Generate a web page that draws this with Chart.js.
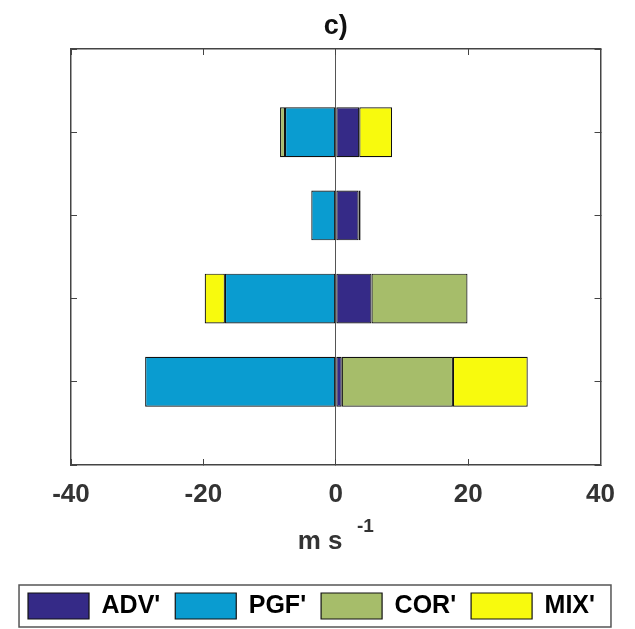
<!DOCTYPE html>
<html>
<head>
<meta charset="utf-8">
<script src="https://cdn.jsdelivr.net/npm/chart.js@4/dist/chart.umd.min.js"></script>
<style>
body { margin: 0; background: #fff; }
</style>
</head>
<body>
<canvas id="chart" width="635" height="629"></canvas>
<script>
// bar rows, bottom to top
var positions = [1, 2, 3, 4];
var adv = [0.9, 5.4, 3.45, 3.55];
var pgf = [-28.8, -16.75, -3.7, -7.67];
var cor = [16.8, 14.5, 0.3, -0.75];
var mix = [11.3, -3.05, 0, 4.96];
var seriesNames = ["ADV'", "PGF'", "COR'", "MIX'"];
var seriesColors = ["#352a87", "#0a9cd0", "#a6bd6a", "#f8fa0d"];
var xTicks = [-40, -20, 0, 20, 40];
var titleText = "c)";
var xLabel = "m s";
var xLabelExp = "-1";

function points(values) {
    var out = [];
    for (var i = 0; i < positions.length; i++) {
        out.push({x: values[i], y: positions[i]});
    }
    return out;
}

var allValues = [adv, pgf, cor, mix];
var datasets = [];
for (var i = 0; i < allValues.length; i++) {
    datasets.push({
        label: seriesNames[i],
        data: points(allValues[i]),
        backgroundColor: seriesColors[i],
        borderColor: "#111",
        borderWidth: 1.2,
        borderSkipped: false,
        barPercentage: 0.75,
        categoryPercentage: 0.8
    });
}

// x label with raised exponent, and the box round the legend
var extras = {
    id: "extras",
    afterDraw: function(chart) {
        var ctx = chart.ctx;
        var area = chart.chartArea;
        ctx.save();
        ctx.fillStyle = "#333";
        ctx.textBaseline = "middle";
        ctx.font = "bold 26px 'Liberation Sans', Arial, sans-serif";
        var w1 = ctx.measureText(xLabel + "  ").width;
        ctx.font = "bold 19px 'Liberation Sans', Arial, sans-serif";
        var w2 = ctx.measureText(xLabelExp).width;
        var x0 = (area.left + area.right) / 2 - (w1 + w2) / 2;
        var y0 = area.bottom + 77;
        ctx.font = "bold 26px 'Liberation Sans', Arial, sans-serif";
        ctx.textAlign = "left";
        ctx.fillText(xLabel, x0, y0);
        ctx.font = "bold 19px 'Liberation Sans', Arial, sans-serif";
        ctx.fillText(xLabelExp, x0 + w1, y0 - 15);

        var boxes = chart.legend.legendHitBoxes;
        if (boxes && boxes.length) {
            var l = boxes[0].left, t = boxes[0].top, r = 0, b = 0;
            for (var i = 0; i < boxes.length; i++) {
                l = Math.min(l, boxes[i].left);
                t = Math.min(t, boxes[i].top);
                r = Math.max(r, boxes[i].left + boxes[i].width);
                b = Math.max(b, boxes[i].top + boxes[i].height);
            }
            ctx.strokeStyle = "#555";
            ctx.lineWidth = 1.5;
            ctx.strokeRect(l - 9, t - 8, r - l + 25, b - t + 16);
        }
        ctx.restore();
    }
};

var inward = {
    display: true,
    offset: false,
    drawOnChartArea: false,
    drawTicks: true,
    tickLength: -6,
    tickColor: "#444"
};

var chart = new Chart(document.getElementById("chart"), {
    type: "bar",
    data: { datasets: datasets },
    plugins: [extras],
    options: {
        responsive: false,
        animation: false,
        indexAxis: "y",
        layout: { padding: { left: 0, right: 12, top: 6, bottom: 0 } },
        plugins: {
            title: { display: false },
            tooltip: { enabled: false },
            legend: {
                position: "bottom",
                labels: {
                    boxWidth: 61,
                    boxHeight: 26,
                    padding: 15,
                    color: "#000",
                    font: { family: "'Liberation Sans', Arial, sans-serif", size: 25, weight: "bold" }
                }
            }
        },
        scales: {
            x: {
                type: "linear",
                position: "bottom",
                stacked: true,
                min: -40,
                max: 40,
                afterBuildTicks: function(scale) {
                    scale.ticks = xTicks.map(function(v) { return {value: v}; });
                },
                grid: {
                    drawOnChartArea: true,
                    drawTicks: true,
                    tickLength: -6,
                    tickColor: "#444",
                    color: function(c) { return c.tick && c.tick.value === 0 ? "#555" : "rgba(0,0,0,0)"; }
                },
                border: { color: "#444", width: 1.5 },
                ticks: {
                    color: "#333",
                    padding: 20,
                    font: { family: "'Liberation Sans', Arial, sans-serif", size: 26, weight: "bold" }
                },
                afterFit: function(scale) { scale.height = 113; }
            },
            x2: {
                type: "linear",
                position: "top",
                min: -40,
                max: 40,
                afterBuildTicks: function(scale) {
                    scale.ticks = xTicks.map(function(v) { return {value: v}; });
                },
                grid: inward,
                border: { color: "#444", width: 1.5 },
                ticks: { display: false },
                title: {
                    display: true,
                    text: titleText,
                    color: "#111",
                    padding: { top: 4, bottom: 2 },
                    font: { family: "'Liberation Sans', Arial, sans-serif", size: 27, weight: "bold" }
                },
                afterFit: function(scale) { scale.height = 43; }
            },
            y: {
                type: "linear",
                position: "left",
                stacked: true,
                offset: false,
                min: 0,
                max: 5,
                ticks: { display: false, stepSize: 1 },
                grid: inward,
                border: { color: "#444", width: 1.5 },
                afterFit: function(scale) { scale.width = 71; }
            },
            y2: {
                type: "linear",
                position: "right",
                offset: false,
                min: 0,
                max: 5,
                ticks: { display: false, stepSize: 1 },
                grid: inward,
                border: { color: "#444", width: 1.5 },
                afterFit: function(scale) { scale.width = 17; }
            }
        }
    }
});
</script>
</body>
</html>
